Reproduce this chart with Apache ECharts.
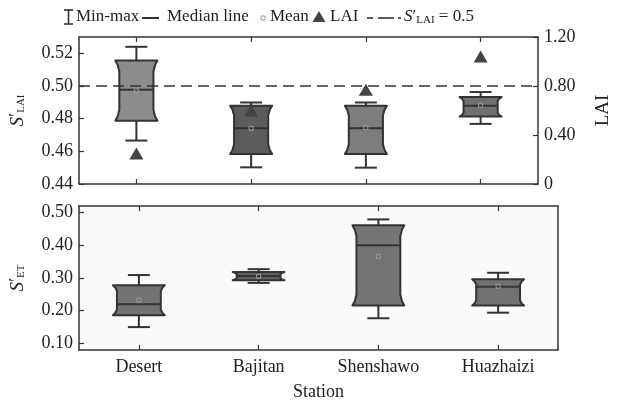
<!DOCTYPE html>
<html>
<head>
<meta charset="utf-8">
<script src="https://cdn.jsdelivr.net/npm/echarts@6/dist/echarts.min.js"></script>
<style>
  html, body { margin: 0; padding: 0; background: #fff; }
  #chart { width: 621px; height: 402px; }
</style>
</head>
<body>
<div id="chart"></div>
<script>
// Stations along the x axis
const stations = ['Desert', 'Bajitan', 'Shenshawo', 'Huazhaizi'];

// S'LAI box statistics per station: [min, q1, median, q3, max]
const sLaiBoxes = [
  [0.4666, 0.4788, 0.4977, 0.5156, 0.5240],
  [0.4502, 0.4584, 0.4742, 0.4879, 0.4899],
  [0.4500, 0.4584, 0.4742, 0.4879, 0.4899],
  [0.4768, 0.4813, 0.4879, 0.4932, 0.4963]
];
const sLaiMeans = [0.4970, 0.4740, 0.4745, 0.4882];

// Leaf area index per station (right axis)
const laiValues = [0.25, 0.60, 0.77, 1.04];

// S'ET box statistics per station: [min, q1, median, q3, max]
const sEtBoxes = [
  [0.150, 0.186, 0.220, 0.278, 0.309],
  [0.285, 0.293, 0.306, 0.318, 0.327],
  [0.177, 0.216, 0.400, 0.461, 0.479],
  [0.194, 0.216, 0.273, 0.296, 0.316]
];
const sEtMeans = [0.232, 0.305, 0.366, 0.275];

// Reference level for S'LAI
const sLaiThreshold = 0.5;

// Tick labels
const sLaiTicks = [0.44, 0.46, 0.48, 0.50, 0.52];
const laiTicks = [0, 0.4, 0.8, 1.2];
const sEtTicks = [0.1, 0.2, 0.3, 0.4, 0.5];

// ---- styling ----
const FONT = '"Liberation Serif", "Times New Roman", serif';
const INK = '#333';
const topFills = ['#8c8c8c', '#5c5c5c', '#7d7d7d', '#707070'];
const bottomFills = ['#727272', '#606060', '#747474', '#717171'];

function boxRows(boxes) {
  return boxes.map((b, i) => [i].concat(b));
}
function pointRows(values) {
  return values.map((v, i) => [i, v]);
}

// Notched box with whiskers, drawn in data coordinates
function notchedBox(widthRatio, fills) {
  return function (params, api) {
    const i = api.value(0);
    const yMin = api.coord([i, api.value(1)])[1];
    const yQ1 = api.coord([i, api.value(2)])[1];
    const yMed = api.coord([i, api.value(3)])[1];
    const yQ3 = api.coord([i, api.value(4)])[1];
    const yMax = api.coord([i, api.value(5)])[1];
    const cx = api.coord([i, api.value(3)])[0];
    const band = api.size([1, 0])[0];
    const hw = band * widthRatio / 2;
    const cap = 11;
    const inset = 4;
    const h = yQ1 - yQ3;
    const t = Math.max(2, Math.min(11, h * 0.2));
    const L = cx - hw, R = cx + hw;
    const pts = [
      [L, yQ3], [L + inset * 0.6, yQ3 + t * 0.4], [L + inset, yQ3 + t],
      [L + inset, yQ1 - t], [L + inset * 0.6, yQ1 - t * 0.4], [L, yQ1],
      [R, yQ1], [R - inset * 0.6, yQ1 - t * 0.4], [R - inset, yQ1 - t],
      [R - inset, yQ3 + t], [R - inset * 0.6, yQ3 + t * 0.4], [R, yQ3]
    ];
    const edge = { stroke: INK, lineWidth: 2 };
    return {
      type: 'group',
      children: [
        { type: 'line', shape: { x1: cx, y1: yMax, x2: cx, y2: yQ3 }, style: edge },
        { type: 'line', shape: { x1: cx, y1: yQ1, x2: cx, y2: yMin }, style: edge },
        { type: 'line', shape: { x1: cx - cap, y1: yMax, x2: cx + cap, y2: yMax }, style: edge },
        { type: 'line', shape: { x1: cx - cap, y1: yMin, x2: cx + cap, y2: yMin }, style: edge },
        { type: 'polygon', shape: { points: pts },
          style: { fill: fills[i], stroke: INK, lineWidth: 2, lineJoin: 'round' } },
        { type: 'line', shape: { x1: L + inset, y1: yMed, x2: R - inset, y2: yMed }, style: edge }
      ]
    };
  };
}

const subRich = {
  it: { fontFamily: FONT, fontStyle: 'italic', fontSize: 19, color: '#222' },
  n: { fontFamily: FONT, fontSize: 19, color: '#222' },
  sub: { fontFamily: FONT, fontSize: 11, color: '#222', verticalAlign: 'bottom', padding: [6, 0, 0, 0] }
};

function catAxis(grid, position, showLabels) {
  return {
    type: 'category', gridIndex: grid, position: position, data: stations,
    axisLine: { show: true, lineStyle: { color: INK, width: 1.5 } },
    axisTick: { show: true, inside: true, alignWithLabel: true, length: 5, lineStyle: { color: INK, width: 1.2 } },
    axisLabel: { show: showLabels, fontFamily: FONT, fontSize: 18, color: '#222', margin: 8 },
    splitLine: { show: false }
  };
}

function valAxis(grid, position, min, max, ticks, fmt, showTicks) {
  return {
    type: 'value', gridIndex: grid, position: position, min: min, max: max,
    axisLine: { show: true, lineStyle: { color: INK, width: 1.5 } },
    axisTick: { show: showTicks, inside: true, length: 5, customValues: ticks, lineStyle: { color: INK, width: 1.2 } },
    axisLabel: { show: showTicks, customValues: ticks, formatter: fmt, fontFamily: FONT, fontSize: 18, color: '#222', margin: 6 },
    splitLine: { show: false }
  };
}

const fmt2 = v => v.toFixed(2);
const fmtLai = v => (Math.abs(v) < 1e-9 ? '0' : v.toFixed(2));

const yTopLeft = valAxis(0, 'left', 0.44, 0.53, sLaiTicks, fmt2, true);
yTopLeft.name = '{it|S}{n|′}{sub|LAI}';
yTopLeft.nameLocation = 'middle';
yTopLeft.nameRotate = 90;
yTopLeft.nameGap = 52;
yTopLeft.nameTextStyle = { rich: subRich };

const yTopRight = valAxis(0, 'right', 0, 1.2, laiTicks, fmtLai, true);
yTopRight.name = 'LAI';
yTopRight.nameLocation = 'middle';
yTopRight.nameRotate = 90;
yTopRight.nameGap = 56;
yTopRight.nameTextStyle = { fontFamily: FONT, fontSize: 19, color: '#222' };

const yBotLeft = valAxis(1, 'left', 0.08, 0.52, sEtTicks, fmt2, true);
yBotLeft.name = '{it|S}{n|′}{sub|ET}';
yBotLeft.nameLocation = 'middle';
yBotLeft.nameRotate = 90;
yBotLeft.nameGap = 52;
yBotLeft.nameTextStyle = { rich: subRich };

const yBotRight = valAxis(1, 'right', 0.08, 0.52, sEtTicks, fmt2, false);

const xBottom = catAxis(1, 'bottom', true);
xBottom.name = 'Station';
xBottom.nameLocation = 'middle';
xBottom.nameGap = 33;
xBottom.nameTextStyle = { fontFamily: FONT, fontSize: 18, color: '#222' };

// Legend row drawn as graphic elements
const LY = 17;
const legendLine = { stroke: INK, lineWidth: 1.6 };
const legendText = (x, text) => ({
  type: 'text', x: x, y: LY,
  style: { text: text, fontFamily: FONT, fontSize: 17, fill: '#222', verticalAlign: 'middle' }
});
const legend = [
  { type: 'line', shape: { x1: 68.5, y1: 10, x2: 68.5, y2: 24 }, style: legendLine },
  { type: 'line', shape: { x1: 64, y1: 10, x2: 73, y2: 10 }, style: legendLine },
  { type: 'line', shape: { x1: 64, y1: 24, x2: 73, y2: 24 }, style: legendLine },
  legendText(76, 'Min-max'),
  { type: 'line', shape: { x1: 142, y1: LY + 1, x2: 159, y2: LY + 1 }, style: { stroke: INK, lineWidth: 2 } },
  legendText(167, 'Median line'),
  { type: 'rect', shape: { x: 261, y: LY - 1, width: 4, height: 4 }, style: { fill: 'none', stroke: '#999', lineWidth: 1 } },
  legendText(270, 'Mean'),
  { type: 'polygon', shape: { points: [[319, LY - 6], [312.5, LY + 5], [325.5, LY + 5]] }, style: { fill: '#444' } },
  legendText(330, 'LAI'),
  { type: 'line', shape: { x1: 367, y1: LY + 1, x2: 373, y2: LY + 1 }, style: legendLine },
  { type: 'line', shape: { x1: 378, y1: LY + 1, x2: 394, y2: LY + 1 }, style: legendLine },
  { type: 'line', shape: { x1: 398, y1: LY + 1, x2: 401, y2: LY + 1 }, style: legendLine },
  {
    type: 'text', x: 404, y: LY,
    style: {
      text: '{it|S}{n|′}{sub|LAI}{n| = 0.5}',
      verticalAlign: 'middle',
      rich: {
        it: { fontFamily: FONT, fontStyle: 'italic', fontSize: 17, fill: '#222' },
        n: { fontFamily: FONT, fontSize: 17, fill: '#222' },
        sub: { fontFamily: FONT, fontSize: 11, fill: '#222', verticalAlign: 'bottom', padding: [6, 0, 0, 0] }
      }
    }
  }
];

const chart = echarts.init(document.getElementById('chart'), null, { renderer: 'canvas' });
chart.setOption({
  animation: false,
  backgroundColor: '#fff',
  grid: [
    { left: 78, right: 63, top: 37, height: 147 },
    { left: 78, right: 63, top: 206, height: 148, show: true, backgroundColor: '#fafafa', borderWidth: 0 }
  ],
  xAxis: [
    catAxis(0, 'bottom', false),
    catAxis(0, 'top', false),
    xBottom,
    catAxis(1, 'top', false)
  ],
  yAxis: [yTopLeft, yTopRight, yBotLeft, yBotRight],
  graphic: legend,
  series: [
    {
      type: 'custom', name: "S'LAI", xAxisIndex: 0, yAxisIndex: 0,
      renderItem: notchedBox(0.367, topFills),
      encode: { x: 0, y: [1, 2, 3, 4, 5] },
      data: boxRows(sLaiBoxes), z: 2
    },
    {
      type: 'scatter', name: 'Mean', xAxisIndex: 0, yAxisIndex: 0,
      data: pointRows(sLaiMeans), symbol: 'rect', symbolSize: 4,
      itemStyle: { color: 'rgba(0,0,0,0)', borderColor: '#999', borderWidth: 1, opacity: 1 }, z: 3,
      markLine: {
        silent: true, symbol: 'none', label: { show: false },
        lineStyle: { type: [11, 6], color: INK, width: 1.6 },
        data: [{ yAxis: sLaiThreshold }]
      }
    },
    {
      type: 'scatter', name: 'LAI', xAxisIndex: 0, yAxisIndex: 1,
      data: pointRows(laiValues), symbol: 'triangle', symbolSize: [14, 12],
      itemStyle: { color: '#444', opacity: 1 }, z: 4
    },
    {
      type: 'custom', name: "S'ET", xAxisIndex: 2, yAxisIndex: 2,
      renderItem: notchedBox(0.433, bottomFills),
      encode: { x: 0, y: [1, 2, 3, 4, 5] },
      data: boxRows(sEtBoxes), z: 2
    },
    {
      type: 'scatter', name: 'Mean ET', xAxisIndex: 2, yAxisIndex: 2,
      data: pointRows(sEtMeans), symbol: 'rect', symbolSize: 4,
      itemStyle: { color: 'rgba(0,0,0,0)', borderColor: '#999', borderWidth: 1, opacity: 1 }, z: 3
    }
  ]
});
</script>
</body>
</html>
